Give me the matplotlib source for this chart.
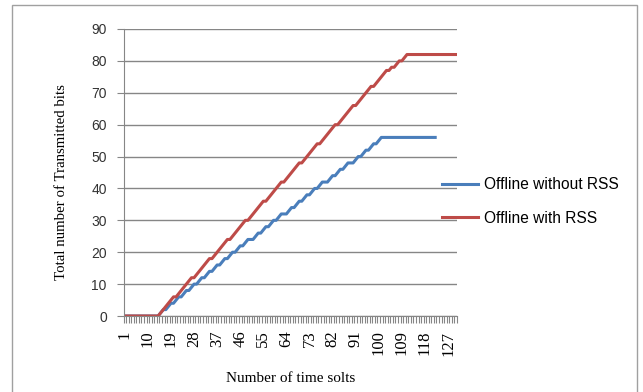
import numpy as np
import matplotlib.pyplot as plt
import matplotlib.transforms as mtransforms
from matplotlib.patches import Rectangle
from matplotlib.ticker import FixedLocator, NullFormatter

# cumulative transmitted bits per time slot
slots = np.arange(1, 131)

with_rss = [0, 0, 0, 0, 0, 0, 0, 0, 0, 0, 0, 0, 0, 0,
            1, 2, 3, 4, 5, 6, 6,
            7, 8, 9, 10, 11, 12, 12,
            13, 14, 15, 16, 17, 18, 18,
            19, 20, 21, 22, 23, 24, 24,
            25, 26, 27, 28, 29, 30, 30,
            31, 32, 33, 34, 35, 36, 36,
            37, 38, 39, 40, 41, 42, 42,
            43, 44, 45, 46, 47, 48, 48,
            49, 50, 51, 52, 53, 54, 54,
            55, 56, 57, 58, 59, 60, 60,
            61, 62, 63, 64, 65, 66, 66,
            67, 68, 69, 70, 71, 72, 72,
            73, 74, 75, 76, 77, 77,
            78, 78, 79, 80, 80, 81, 82,
            82, 82, 82, 82, 82, 82, 82, 82, 82, 82,
            82, 82, 82, 82, 82, 82, 82, 82, 82]

without_rss = [0, 0, 0, 0, 0, 0, 0, 0, 0, 0, 0, 0, 0, 0,
               1, 2, 2, 3, 4, 4, 5, 6, 6, 7, 8, 8, 9, 10, 10,
               11, 12, 12, 13, 14, 14, 15, 16, 16, 17, 18, 18,
               19, 20, 20, 21, 22, 22, 23, 24, 24, 24,
               25, 26, 26, 27, 28, 28, 29, 30, 30, 31, 32, 32, 32,
               33, 34, 34, 35, 36, 36, 37, 38, 38, 39, 40, 40,
               41, 42, 42, 42,
               43, 44, 44, 45, 46, 46, 47, 48, 48, 48,
               49, 50, 50, 51, 52, 52, 53, 54, 54, 55, 56, 56,
               56, 56, 56, 56, 56, 56, 56, 56, 56, 56,
               56, 56, 56, 56, 56, 56, 56, 56, 56, 56]

tick_labels = [1, 10, 19, 28, 37, 46, 55, 64, 73, 82, 91, 100, 109, 118, 127]

blue = '#4a7ebb'
red = '#be4b48'
grid_c = '#868686'
serif = 'Liberation Serif'
sans = 'Liberation Sans'

fig = plt.figure(figsize=(6.43, 3.92), dpi=100)
ax = fig.add_axes([123.5/643, 1-316/392, (457-123.5)/643, (316-29)/392])

ax.plot(slots[:len(without_rss)], without_rss, color=blue, lw=2.2,
        label='Offline without RSS', solid_joinstyle='round')
ax.plot(slots[:len(with_rss)], with_rss, color=red, lw=2.2,
        label='Offline with RSS', solid_joinstyle='round')

ax.set_xlim(0.5, 130.5)
ax.set_ylim(0, 90)
ax.set_yticks(np.arange(0, 91, 10))
ax.yaxis.grid(True, color=grid_c, lw=1)
ax.set_axisbelow(True)

ax.set_xticks(tick_labels)
ax.set_xticklabels([str(t) for t in tick_labels], rotation=90,
                   fontfamily=serif, fontsize=12)
shift = mtransforms.ScaledTranslation(0.03, 0, fig.dpi_scale_trans)
for lab in ax.get_xticklabels():
    lab.set_transform(lab.get_transform() + shift)
ax.xaxis.set_minor_locator(FixedLocator(np.arange(0.5, 131, 1)))
ax.xaxis.set_minor_formatter(NullFormatter())
ax.tick_params(axis='x', which='major', length=0, pad=10.5)
ax.tick_params(axis='x', which='minor', length=5, color=grid_c, width=0.8)
ax.tick_params(axis='y', length=5, color=grid_c, pad=7, labelsize=10)
for lab in ax.get_yticklabels():
    lab.set_fontfamily(sans)
    lab.set_color('#333333')

for s in ['top', 'right']:
    ax.spines[s].set_visible(False)
for s in ['left', 'bottom']:
    ax.spines[s].set_color(grid_c)

ax.set_xlabel('Number of time solts', fontfamily=serif, fontsize=11, labelpad=12)
ax.set_ylabel('Total number of Transmitted bits', fontfamily=serif, fontsize=10.7)
ax.yaxis.set_label_coords(-0.166, 0.465)

leg = ax.legend(loc='center left', bbox_to_anchor=(442/643, 1-201.5/392),
                bbox_transform=fig.transFigure, frameon=False, borderpad=0,
                borderaxespad=0, prop={'family': sans, 'size': 11.2},
                handlelength=2.3, labelspacing=1.2, handletextpad=0.4)

# outer chart frame
fig.patches.append(Rectangle((12/643, -0.01), (637-12)/643, 1-5/392+0.01,
                             transform=fig.transFigure, fill=False,
                             edgecolor='#a0a0a0', lw=1))

fig.savefig('out.png', dpi=100)
